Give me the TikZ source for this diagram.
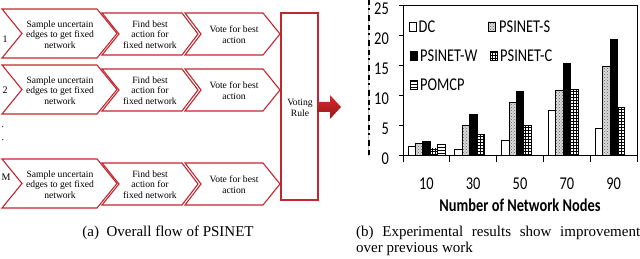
\documentclass[tikz,border=0pt]{standalone}
\usepackage{fontspec}
\usepackage{graphicx}
\setmainfont{Liberation Serif}
\newfontfamily\chartfont{Carlito}
\usetikzlibrary{patterns}
\definecolor{chevred}{RGB}{196,38,48}
\definecolor{arrowtop}{RGB}{214,44,44}
\definecolor{arrowbot}{RGB}{150,22,26}
\newcommand{\ctxt}[1]{\scalebox{1}[1.25]{#1}}
\tikzset{
  chev/.style={draw=chevred, line width=1.1pt, fill=white, line join=miter},
  chevtext/.style={inner sep=0pt, align=center, font=\fontsize{9.6}{10.5}\selectfont},
  rowlbl/.style={inner sep=0pt, font=\fontsize{10}{12}\selectfont},
  chartline/.style={draw=black, line width=0.9pt},
  chartlbl/.style={inner sep=0pt, font=\chartfont\fontsize{14.4}{16}\selectfont},
  bar/.style={draw=black, line width=0.7pt},
  barDC/.style={bar, fill=white},
  barS/.style={bar, preaction={fill=gray!30}, pattern=crosshatch dots, pattern color=gray!75!black},
  barW/.style={bar, fill=black},
  barC/.style={bar, fill=white, postaction={pattern=grid, pattern color=black}},
  barP/.style={bar, fill=white, postaction={pattern=horizontal lines, pattern color=black}},
  capt/.style={inner sep=0pt, font=\fontsize{15}{16}\selectfont},
}
\begin{document}
\begin{tikzpicture}[x=1pt,y=-1pt]
\useasboundingbox (0,0) rectangle (640,259);
\fill[white] (0,0) rectangle (640,259);

% ---------- (a) flow ----------
\foreach \o/\r in {0/1, 56/2, 150/3}{
  \draw[chev] (185,13+\o) -- (263,13+\o) -- (280,34+\o) -- (263,55+\o) -- (185,55+\o) -- (201,34+\o) -- cycle;
  \draw[chev] (102,13+\o) -- (182,13+\o) -- (198,34+\o) -- (182,55+\o) -- (102,55+\o) -- (119,34+\o) -- cycle;
  \draw[chev] (2,9+\o) -- (97,9+\o) -- (117,33.5+\o) -- (97,58+\o) -- (2,58+\o) -- (22,33.5+\o) -- cycle;
  \node[chevtext] (samp\r) at (60,34.5+\o) {Sample uncertain\\edges to get fixed\\network};
  \node[chevtext] (find\r) at (150,34.5+\o) {Find best\\action for\\fixed network};
  \node[chevtext] (vote\r) at (234,34.5+\o) {Vote for best\\action};
}
\node[rowlbl] (l1) at (5,39) {1};
\node[rowlbl] (l2) at (5,90) {2};
\node[rowlbl] (lM) at (6,177) {M};
\node[rowlbl] (d1) at (3,127) {.};
\node[rowlbl] (d2) at (3,140) {.};

\node[draw=chevred, line width=1.1pt, fill=white, minimum width=37pt, minimum height=187pt, inner sep=0pt] (votebox) at (299.5,106.5) {};
\node[chevtext] (votetxt) at (300,108) {Voting\\Rule};

\shade[top color=arrowtop, bottom color=arrowbot] (317,102) -- (330,102) -- (330,95) -- (341,107) -- (330,119) -- (330,112) -- (317,112) -- cycle;

\node[capt, anchor=base] (capa) at (168,236) {(a)\ \ Overall flow of PSINET};

% ---------- (b) chart ----------
\draw[gray!55, line width=1pt] (368,0) -- (368,156);
\draw[black, line width=2.2pt, dash pattern=on 5pt off 3pt on 2pt off 5pt on 6pt off 4pt] (369,0) -- (369,156);

\foreach \k/\a/\b/\c/\d/\e in {0/1.5/2.0/2.2/1.0/1.7, 1/1.0/5.0/6.8/3.4/0, 2/2.4/8.8/10.6/4.9/0, 3/7.4/10.8/15.2/10.9/0, 4/4.5/14.7/19.2/7.9/0}{
  \pgfmathsetmacro{\xo}{408+46.8*\k}
  \draw[barDC] (\xo,155) rectangle ({\xo+7.4},{155-6*\a});
  \draw[barS] ({\xo+7.4},155) rectangle ({\xo+14.8},{155-6*\b});
  \draw[barW] ({\xo+14.8},155) rectangle ({\xo+22.2},{155-6*\c});
  \draw[barC] ({\xo+22.2},155) rectangle ({\xo+29.6},{155-6*\d});
  \ifdim\e pt>0pt
    \draw[barP] ({\xo+29.6},155) rectangle ({\xo+37},{155-6*\e});
  \fi
}

\draw[chartline] (403,5) rectangle (637,155);
\foreach \k in {0,...,5}{ \draw[chartline] ({403+46.8*\k},155) -- ++(0,7); }
\foreach \v in {0,5,...,25}{
  \draw[chartline] (403,{155-6*\v}) -- ++(-4,0);
  \node[chartlbl, anchor=east] (y\v) at (389,{159-6*\v}) {\ctxt{\v}};
}
\foreach \k/\t in {0/10,1/30,2/50,3/70,4/90}{
  \node[chartlbl] (x\t) at ({426.4+46.8*\k},183.5) {\ctxt{\t}};
}
\node[chartlbl, font=\chartfont\bfseries\fontsize{14.4}{16}\selectfont] (xtitle) at (520,205) {\ctxt{Number of Network Nodes}};

% legend
\draw[barDC] (409.5,22) rectangle (416.5,31);
\node[chartlbl, anchor=west] (legDC) at (418.5,26.5) {\ctxt{DC}};
\draw[barS] (488.5,22) rectangle (495.5,31);
\node[chartlbl, anchor=west] (legS) at (499,26.5) {\ctxt{PSINET-S}};
\draw[barW] (410,51.5) rectangle (417,60.5);
\node[chartlbl, anchor=west] (legW) at (420,56) {\ctxt{PSINET-W}};
\draw[barC] (490,51.5) rectangle (497,60.5);
\node[chartlbl, anchor=west] (legC) at (500,56) {\ctxt{PSINET-C}};
\draw[barP] (410,80) rectangle (417,89);
\node[chartlbl, anchor=west] (legP) at (420,84.5) {\ctxt{POMCP}};

\node[capt, anchor=base west] (capb1) at (356,236) {\makebox[284pt][s]{(b) Experimental results show improvement}};
\node[capt, anchor=base west] (capb2) at (356,252) {over previous work};
\end{tikzpicture}
\end{document}
